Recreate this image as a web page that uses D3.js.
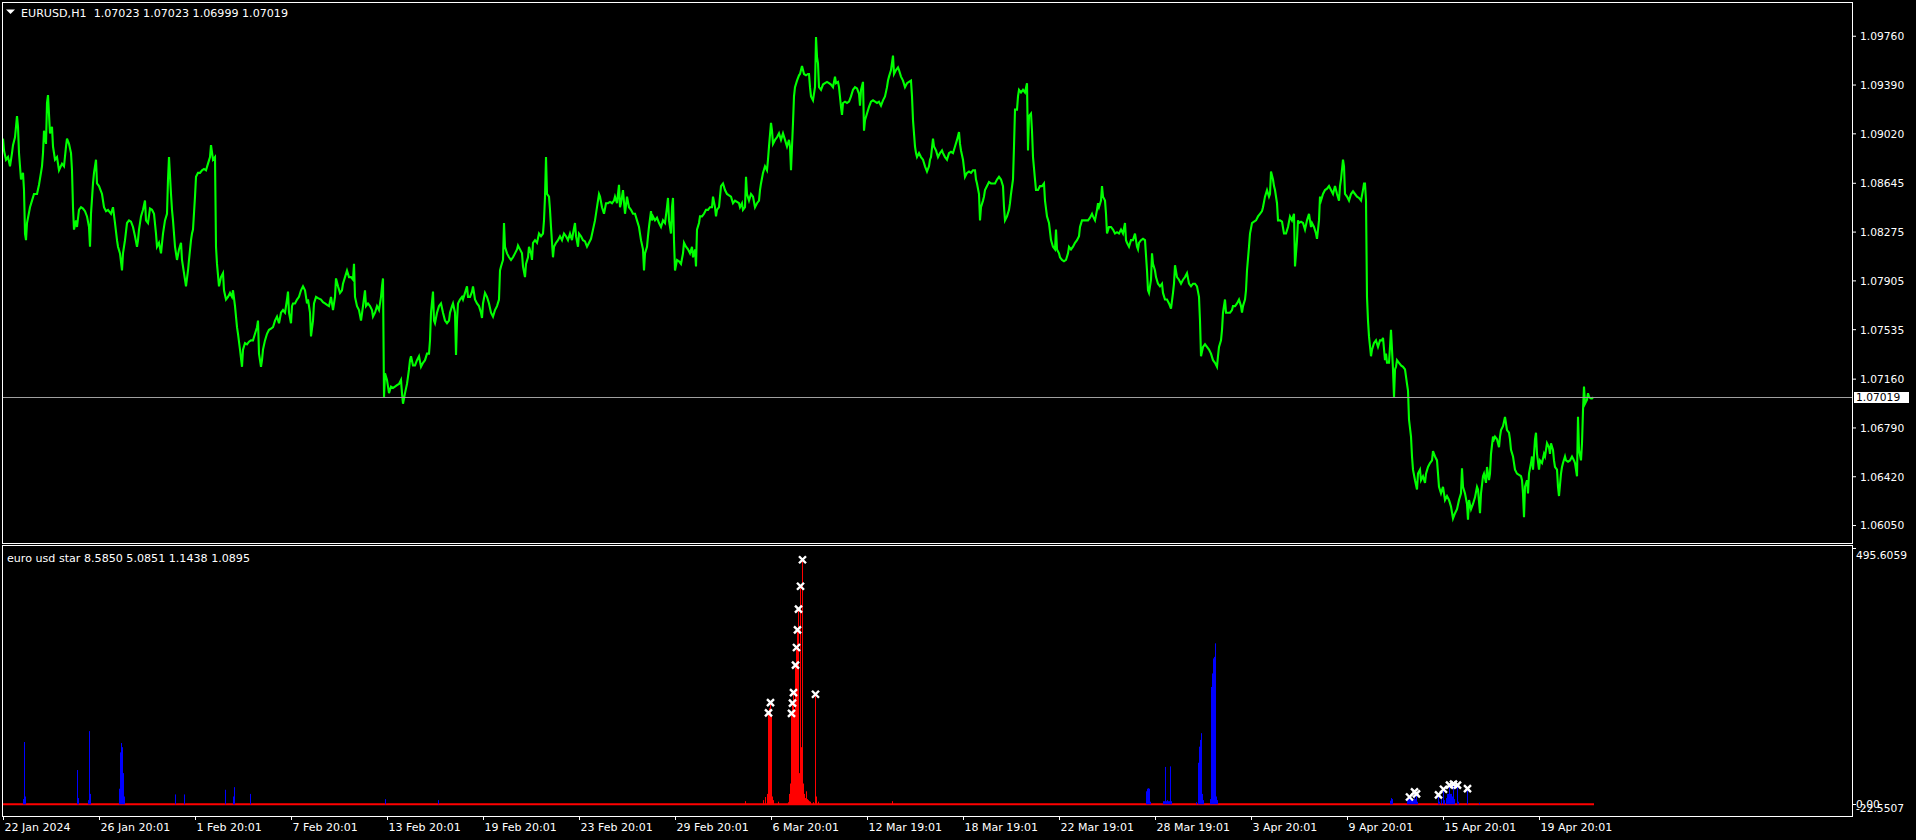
<!DOCTYPE html>
<html><head><meta charset="utf-8">
<script src="https://cdn.jsdelivr.net/npm/d3@7"></script>
<style>html,body{margin:0;padding:0;background:#000;overflow:hidden}svg{display:block}</style>
</head><body><svg id="c" width="1916" height="840"></svg>
<script>
// ---------------- data ----------------
const symbolTitle = "EURUSD,H1";
const ohlcText = "1.07023 1.07023 1.06999 1.07019";
const indicatorTitle = "euro usd star 8.5850 5.0851 1.1438 1.0895";
const lastPrice = 1.07019;
const priceDomain = [1.05910, 1.10012];
const priceTicks = [1.09760, 1.09390, 1.09020, 1.08645, 1.08275, 1.07905, 1.07535, 1.07160, 1.06790, 1.06420, 1.06050];
const oscDomain = [-22.5507, 495.6059];
const oscTickLabels = ["495.6059", "0.00", "-22.5507"];
const timeLabels = ["22 Jan 2024","26 Jan 20:01","1 Feb 20:01","7 Feb 20:01","13 Feb 20:01","19 Feb 20:01","23 Feb 20:01","29 Feb 20:01","6 Mar 20:01","12 Mar 19:01","18 Mar 19:01","22 Mar 19:01","28 Mar 19:01","3 Apr 20:01","9 Apr 20:01","15 Apr 20:01","19 Apr 20:01"];
const timeLabelBars = [0,96,192,288,384,480,576,672,768,864,960,1056,1152,1248,1344,1440,1536];
const barsVisible = 1849;

const priceBar = [0,1,3,5,7,9,10,12,14,15,16,18,20,21,22,23,24,27,29,31,34,36,39,40,41,43,44,45,47,49,50,52,54,56,59,61,63,64,66,68,69,70,71,73,74,76,78,80,82,84,86,87,88,90,91,93,94,96,99,101,103,105,108,110,112,114,115,117,119,120,122,124,126,128,130,132,134,135,136,138,140,142,143,145,147,149,151,153,154,156,158,160,162,164,165,166,168,169,170,172,173,174,176,178,179,181,183,185,186,188,189,190,192,193,195,197,199,201,203,205,207,208,210,212,213,214,216,218,220,221,223,225,227,229,230,232,234,235,237,239,240,242,244,246,248,250,252,254,255,256,258,259,260,262,264,266,268,270,272,274,276,278,280,282,284,285,286,288,289,290,292,294,296,298,300,302,304,305,307,308,310,311,313,315,318,320,322,324,326,328,330,332,333,335,337,339,340,342,344,346,348,350,351,352,354,356,358,360,362,363,365,367,369,370,372,374,376,378,379,380,381,382,384,386,388,390,392,394,396,398,399,400,402,404,406,
407,408,410,412,414,416,418,420,422,424,426,427,428,430,431,432,434,436,438,440,442,444,446,447,449,450,452,453,454,455,457,459,460,462,464,465,467,469,470,472,474,476,478,479,480,482,484,486,488,490,492,494,496,497,498,500,501,502,504,506,508,510,512,514,515,517,519,520,522,523,525,526,528,529,530,532,534,536,538,540,541,542,543,544,546,547,548,550,551,553,555,557,559,561,563,565,567,569,570,572,573,575,576,578,580,582,584,586,588,590,592,594,596,597,599,601,603,605,607,609,611,612,614,616,617,618,620,622,624,626,628,630,632,634,636,637,638,640,641,642,644,645,646,648,649,650,652,654,656,658,660,662,664,665,666,668,669,670,671,672,674,676,678,680,681,683,685,687,689,690,692,693,694,696,697,699,701,703,705,707,709,710,712,713,714,716,717,718,720,722,724,726,728,730,732,734,736,737,739,740,742,743,744,746,748,750,752,754,756,757,758,760,762,764,765,766,768,769,770,772,774,776,778,780,782,784,786,787,788,790,791,792,794,796,797,799,801,803,805,
806,807,808,810,812,813,814,815,816,818,820,822,824,826,828,830,832,833,835,836,838,839,840,842,844,846,848,850,852,854,856,857,858,860,861,862,864,866,868,870,872,874,876,878,880,882,884,885,886,888,890,891,893,895,896,898,900,902,904,906,908,909,910,912,913,914,916,918,920,922,924,926,927,928,930,931,933,935,937,939,940,942,944,946,948,950,952,954,956,957,958,960,962,964,966,968,970,972,973,974,976,977,978,980,981,982,984,986,988,990,992,994,996,998,1000,1001,1002,1004,1006,1007,1008,1010,1011,1012,1014,1015,1016,1018,1020,1022,1024,1025,1026,1028,1029,1030,1032,1033,1035,1037,1039,1041,1042,1044,1046,1048,1050,1052,1053,1054,1056,1057,1059,1061,1063,1065,1066,1068,1070,1072,1074,1076,1077,1079,1081,1083,1085,1087,1089,1090,1092,1094,1095,1096,1098,1099,1100,1102,1103,1104,1106,1108,1110,1112,1114,1116,1118,1120,1122,1123,1124,1126,1128,1130,1132,1134,1135,1136,1138,1140,1142,1144,1145,1146,1148,1149,1150,1152,1153,1155,1157,1159,1160,1162,1164,1166,1168,1170,1171,1172,1174,1176,1178,1180,1182,1184,1186,1188,1190,1192,1194,1196,1197,1198,1200,1202,1204,
1206,1208,1210,1212,1214,1215,1216,1218,1219,1220,1222,1223,1225,1227,1229,1230,1232,1234,1236,1238,1239,1240,1242,1243,1244,1246,1247,1249,1251,1253,1255,1257,1259,1260,1262,1264,1266,1267,1268,1270,1271,1272,1274,1275,1277,1279,1281,1283,1285,1287,1289,1291,1292,1294,1295,1296,1298,1300,1302,1304,1306,1308,1309,1311,1313,1314,1316,1317,1318,1320,1322,1324,1326,1328,1330,1332,1334,1336,1337,1338,1340,1341,1342,1344,1346,1348,1350,1352,1354,1356,1358,1360,1361,1362,1363,1364,1365,1366,1368,1369,1371,1373,1375,1377,1379,1380,1382,1383,1384,1386,1387,1388,1390,1391,1392,1393,1394,1396,1398,1400,1402,1404,1405,1406,1408,1409,1410,1412,1414,1415,1417,1418,1420,1422,1423,1425,1427,1429,1430,1432,1434,1436,1438,1440,1442,1444,1446,1448,1450,1452,1454,1456,1458,1459,1460,1462,1464,1465,1466,1468,1470,1472,1474,1475,1477,1478,1480,1481,1483,1484,1486,1487,1488,1490,1491,1492,1494,1496,1497,1498,1500,1502,1503,1504,1506,1507,1508,1510,1511,1512,1514,1516,1518,1519,1520,1521,1522,1524,1525,1526,1528,1529,1530,1532,1533,1534,1536,1537,1539,1541,1542,1544,1546,1547,1548,1550,1551,1552,1554,1555,1556,1558,1559,1560,1562,1563,1565,1567,1569,1571,1572,1574,1575,1576,1578,1579,1580,1581,1582,1584,1585,1586,1588,1589,1590];

const priceClose = [1.0898,1.0889,1.0882,1.0884,1.0877,1.0887,1.0893,1.0899,1.0915,1.0907,1.0887,1.0867,1.0872,1.0859,1.0826,1.0821,1.0834,1.0846,1.0851,1.0856,1.0856,1.0863,1.0877,1.0887,1.0904,1.0894,1.0925,1.0931,1.0902,1.0907,1.0892,1.0882,1.0884,1.0874,1.0879,1.0877,1.0892,1.0898,1.0894,1.0887,1.0874,1.0846,1.0829,1.0836,1.0831,1.0844,1.0846,1.0845,1.0843,1.0839,1.0831,1.0816,1.0841,1.0864,1.0872,1.0882,1.0864,1.0862,1.0856,1.0846,1.0843,1.0844,1.0841,1.0846,1.0834,1.0821,1.0816,1.0811,1.0798,1.0811,1.0821,1.0834,1.0836,1.0835,1.0831,1.0824,1.0816,1.0821,1.0829,1.0839,1.0844,1.0851,1.0836,1.0834,1.0845,1.0844,1.0841,1.0826,1.0816,1.0819,1.0811,1.0826,1.0836,1.0841,1.0867,1.0884,1.0856,1.0844,1.0836,1.0816,1.0811,1.0806,1.0814,1.0819,1.0806,1.0796,1.0786,1.0798,1.0806,1.0821,1.0826,1.0829,1.0854,1.0869,1.0872,1.0872,1.0874,1.0875,1.0874,1.0879,1.0884,1.0893,1.0882,1.0884,1.0816,1.0803,1.0786,1.0793,1.0796,1.0783,1.0776,1.0778,1.0781,1.0778,1.0783,1.0771,1.0755,1.0750,1.0738,1.0725,1.0738,1.0743,1.0742,1.0744,1.0745,1.0745,1.0750,1.0755,1.0760,1.0735,1.0725,1.0730,1.0738,1.0745,1.0750,1.0753,1.0754,1.0755,1.0760,1.0763,1.0758,1.0766,1.0768,1.0766,1.0776,1.0782,1.0766,1.0758,1.0771,1.0773,1.0773,1.0776,1.0778,1.0783,1.0786,1.0783,1.0773,1.0776,1.0766,1.0748,1.0760,1.0773,1.0778,1.0777,1.0776,1.0774,1.0773,1.0772,1.0771,1.0778,1.0768,1.0778,1.0792,1.0786,1.0781,1.0783,1.0788,1.0793,1.0798,1.0793,1.0793,1.0791,1.0803,1.0778,1.0771,1.0768,1.0760,1.0771,1.0783,1.0771,1.0773,1.0771,1.0768,1.0763,1.0766,1.0771,1.0768,1.0778,1.0786,1.0792,1.0702,1.0720,1.0715,1.0705,1.0710,1.0709,1.0710,1.0711,1.0712,1.0715,1.0705,1.0697,1.0705,1.0712,1.0723,
1.0730,1.0733,1.0726,1.0726,1.0730,1.0733,1.0725,1.0728,1.0730,1.0735,1.0735,1.0745,1.0766,1.0782,1.0760,1.0758,1.0766,1.0771,1.0773,1.0766,1.0760,1.0758,1.0760,1.0766,1.0771,1.0773,1.0766,1.0734,1.0760,1.0773,1.0776,1.0778,1.0776,1.0781,1.0786,1.0778,1.0778,1.0782,1.0786,1.0776,1.0773,1.0771,1.0766,1.0762,1.0773,1.0781,1.0778,1.0773,1.0766,1.0763,1.0768,1.0771,1.0776,1.0798,1.0801,1.0806,1.0834,1.0816,1.0811,1.0808,1.0806,1.0808,1.0811,1.0814,1.0817,1.0814,1.0811,1.0801,1.0793,1.0803,1.0808,1.0816,1.0811,1.0806,1.0819,1.0821,1.0819,1.0826,1.0824,1.0826,1.0836,1.0854,1.0884,1.0856,1.0854,1.0844,1.0831,1.0808,1.0816,1.0819,1.0821,1.0824,1.0821,1.0826,1.0824,1.0821,1.0826,1.0821,1.0826,1.0834,1.0824,1.0816,1.0826,1.0824,1.0821,1.0820,1.0816,1.0819,1.0822,1.0829,1.0836,1.0846,1.0856,1.0854,1.0846,1.0841,1.0849,1.0849,1.0850,1.0849,1.0851,1.0854,1.0849,1.0863,1.0846,1.0849,1.0859,1.0841,1.0854,1.0846,1.0844,1.0841,1.0841,1.0836,1.0831,1.0826,1.0821,1.0814,1.0798,1.0811,1.0816,1.0824,1.0831,1.0843,1.0836,1.0839,1.0836,1.0838,1.0834,1.0831,1.0836,1.0834,1.0846,1.0853,1.0836,1.0826,1.0846,1.0853,1.0821,1.0798,1.0806,1.0805,1.0803,1.0811,1.0819,1.0816,1.0814,1.0811,1.0816,1.0808,1.0814,1.0801,1.0829,1.0834,1.0839,1.0839,1.0841,1.0844,1.0844,1.0846,1.0846,1.0854,1.0846,1.0839,1.0844,1.0846,1.0854,1.0862,1.0864,1.0859,1.0856,1.0855,1.0854,1.0849,1.0851,1.0850,1.0849,1.0846,1.0849,1.0844,1.0846,1.0869,1.0856,1.0851,1.0856,1.0854,1.0846,1.0849,1.0851,1.0859,1.0864,1.0872,1.0877,1.0874,1.0882,1.0892,1.0910,1.0904,1.0894,1.0897,1.0899,1.0902,1.0897,1.0902,1.0897,1.0892,1.0897,1.0892,1.0874,1.0910,1.0930,1.0937,1.0942,1.0946,1.0947,1.0953,1.0947,1.0946,1.0947,
1.0947,1.0937,1.0930,1.0927,1.0937,1.0975,1.0960,1.0955,1.0937,1.0935,1.0939,1.0940,1.0941,1.0940,1.0939,1.0937,1.0945,1.0940,1.0941,1.0937,1.0922,1.0916,1.0925,1.0926,1.0925,1.0926,1.0930,1.0935,1.0937,1.0936,1.0932,1.0923,1.0935,1.0941,1.0904,1.0912,1.0917,1.0922,1.0926,1.0927,1.0926,1.0925,1.0926,1.0923,1.0927,1.0930,1.0937,1.0942,1.0945,1.0950,1.0961,1.0947,1.0950,1.0952,1.0950,1.0945,1.0942,1.0937,1.0940,1.0941,1.0942,1.0930,1.0912,1.0892,1.0887,1.0884,1.0887,1.0884,1.0882,1.0877,1.0873,1.0877,1.0882,1.0884,1.0898,1.0892,1.0889,1.0884,1.0887,1.0889,1.0887,1.0884,1.0882,1.0887,1.0888,1.0887,1.0892,1.0897,1.0903,1.0894,1.0889,1.0882,1.0869,1.0872,1.0873,1.0872,1.0874,1.0874,1.0867,1.0864,1.0856,1.0836,1.0846,1.0851,1.0854,1.0859,1.0862,1.0865,1.0864,1.0864,1.0864,1.0867,1.0869,1.0867,1.0862,1.0846,1.0836,1.0839,1.0844,1.0849,1.0856,1.0867,1.0892,1.0920,1.0920,1.0930,1.0935,1.0933,1.0935,1.0933,1.0940,1.0889,1.0915,1.0917,1.0904,1.0884,1.0867,1.0859,1.0859,1.0862,1.0862,1.0864,1.0851,1.0839,1.0834,1.0821,1.0816,1.0814,1.0829,1.0814,1.0811,1.0808,1.0806,1.0805,1.0806,1.0811,1.0816,1.0814,1.0816,1.0819,1.0821,1.0824,1.0831,1.0836,1.0836,1.0836,1.0836,1.0838,1.0841,1.0839,1.0836,1.0844,1.0849,1.0846,1.0851,1.0862,1.0854,1.0851,1.0841,1.0826,1.0831,1.0831,1.0829,1.0826,1.0827,1.0826,1.0829,1.0826,1.0834,1.0821,1.0819,1.0816,1.0821,1.0821,1.0826,1.0816,1.0814,1.0819,1.0821,1.0822,1.0821,1.0798,1.0783,1.0781,1.0791,1.0811,1.0803,1.0798,1.0793,1.0788,1.0786,1.0788,1.0781,1.0776,1.0776,1.0773,1.0769,1.0781,1.0788,1.0802,1.0793,1.0791,1.0788,1.0791,1.0793,1.0796,1.0788,1.0786,1.0788,1.0788,1.0786,1.0778,1.0760,1.0733,1.0740,1.0742,1.0740,
1.0738,1.0735,1.0730,1.0728,1.0725,1.0733,1.0740,1.0745,1.0753,1.0766,1.0776,1.0766,1.0766,1.0766,1.0768,1.0771,1.0771,1.0773,1.0776,1.0771,1.0766,1.0771,1.0776,1.0783,1.0798,1.0816,1.0826,1.0834,1.0835,1.0836,1.0839,1.0841,1.0843,1.0846,1.0854,1.0859,1.0854,1.0856,1.0873,1.0867,1.0862,1.0859,1.0849,1.0836,1.0836,1.0835,1.0826,1.0826,1.0831,1.0839,1.0836,1.0841,1.0801,1.0821,1.0836,1.0834,1.0835,1.0834,1.0829,1.0836,1.0841,1.0831,1.0834,1.0831,1.0826,1.0822,1.0836,1.0854,1.0851,1.0856,1.0859,1.0860,1.0862,1.0859,1.0856,1.0862,1.0856,1.0851,1.0862,1.0867,1.0882,1.0877,1.0856,1.0854,1.0851,1.0856,1.0858,1.0856,1.0854,1.0853,1.0851,1.0859,1.0864,1.0864,1.0851,1.0778,1.0760,1.0748,1.0733,1.0738,1.0743,1.0745,1.0740,1.0745,1.0745,1.0747,1.0730,1.0735,1.0728,1.0728,1.0740,1.0753,1.0723,1.0702,1.0723,1.0725,1.0730,1.0728,1.0726,1.0725,1.0723,1.0712,1.0707,1.0685,1.0672,1.0657,1.0647,1.0639,1.0632,1.0644,1.0647,1.0639,1.0642,1.0637,1.0644,1.0649,1.0652,1.0654,1.0661,1.0657,1.0654,1.0634,1.0629,1.0634,1.0624,1.0627,1.0624,1.0619,1.0610,1.0614,1.0617,1.0624,1.0629,1.0648,1.0634,1.0629,1.0621,1.0609,1.0624,1.0617,1.0621,1.0626,1.0634,1.0632,1.0614,1.0629,1.0642,1.0644,1.0637,1.0649,1.0639,1.0644,1.0659,1.0672,1.0670,1.0672,1.0670,1.0664,1.0672,1.0677,1.0680,1.0687,1.0682,1.0677,1.0675,1.0670,1.0662,1.0657,1.0652,1.0647,1.0644,1.0643,1.0642,1.0639,1.0629,1.0611,1.0634,1.0639,1.0629,1.0644,1.0652,1.0657,1.0647,1.0670,1.0675,1.0659,1.0647,1.0654,1.0652,1.0659,1.0657,1.0667,1.0664,1.0659,1.0667,1.0662,1.0654,1.0649,1.0647,1.0634,1.0627,1.0644,1.0649,1.0652,1.0657,1.0654,1.0653,1.0654,1.0657,1.0654,1.0652,1.0642,1.0687,1.0662,1.0654,1.0667,1.0692,1.0710,1.0697,1.0700,1.0705,1.0702,1.0701,1.0701,1.07019];

// indicator histogram (blue = up buffer, red = down buffer), bar index -> value
const blueBarIdx = [20,21,22,74,75,85,86,87,116,117,118,119,120,121,172,181,222,230,231,247,382,435,1143,1144,1145,1146,1147,1160,1161,1162,1163,1164,1165,1166,1167,1168,1193,1195,1196,1197,1198,1199,1200,1207,1208,1209,1210,1211,1212,1213,1214,1387,1388,1389,1404,1405,1406,1407,1408,1409,1410,1411,1412,1413,1414,1435,1436,1438,1440,1441,1443,1444,1445,1446,1447,1448,1449,1450,1451,1454,1455,1464,1476];
const blueBarVal = [10,120,15,66,12,8,141,20,30,100,118,110,60,15,19,19,28,15,33,20,10,8,25,30,31,30,5,6,6,72,6,8,6,6,73,6,4,80,111,124,137,20,8,10,226,252,281,284,310,15,8,7,12,10,8,10,14,10,12,10,8,24,10,20,5,18,5,10,29,8,12,20,20,37,20,20,15,39,10,37,5,30,3];
const redBarIdx = [742,760,762,764,765,766,767,768,769,770,775,785,786,787,788,789,790,791,792,793,794,795,796,797,798,799,800,801,802,803,804,805,806,807,810,812,813,815,889];
const redBarVal = [6,8,14,20,176,185,196,170,15,8,5,4,20,40,175,195,215,180,268,302,336,376,60,420,110,471,40,20,12,25,10,8,6,5,4,212,15,5,6];
const markerIdx = [765,767,788,789,790,792,793,794,795,797,799,812,1406,1411,1413,1435,1440,1446,1450,1454,1464];
const markerVal = [176,196,175,195,215,268,302,336,376,420,471,212,14,24,20,18,29,37,39,37,30];

// ---------------- layout ----------------
const W = 1916, H = 840;
const L = 2.5, R = 1852.5;
const mainTop = 2.5, mainBottom = 543.5;
const oscTop = 545.5, oscBottom = 816.5;
const FONT = "'DejaVu Sans', Tahoma, sans-serif";

const svg = d3.select("#c");
svg.append("rect").attr("width", W).attr("height", H).attr("fill", "#000");

const x = d3.scaleLinear().domain([0, barsVisible]).range([3, 3 + barsVisible]);
const y = d3.scaleLinear().domain(priceDomain).range([mainBottom, mainTop]);
const yo = d3.scaleLinear().domain(oscDomain).range([oscBottom - 0.5, oscTop + 1.5]);

const defs = svg.append("defs");
defs.append("clipPath").attr("id", "cm").append("rect")
  .attr("x", L).attr("y", mainTop).attr("width", R - L).attr("height", mainBottom - mainTop);
defs.append("clipPath").attr("id", "co").append("rect")
  .attr("x", L).attr("y", oscTop).attr("width", R - L).attr("height", oscBottom - oscTop);

// price line
const idx = d3.range(priceBar.length);
svg.append("g").attr("clip-path", "url(#cm)")
  .append("path")
  .attr("d", d3.line().x(i => x(priceBar[i])).y(i => y(priceClose[i]))(idx))
  .attr("fill", "none").attr("stroke", "#00ff00").attr("stroke-width", 2.1)
  .attr("stroke-linejoin", "miter");

// current price line
svg.append("line").attr("x1", L).attr("x2", R)
  .attr("y1", Math.round(y(lastPrice)) + 0.5).attr("y2", Math.round(y(lastPrice)) + 0.5)
  .attr("stroke", "#a0a0a0").attr("stroke-width", 1);

// price axis
const pAxis = svg.append("g").attr("transform", `translate(${R - 0.5},0)`)
  .call(d3.axisRight(y).tickValues(priceTicks).tickFormat(d => d.toFixed(5)).tickSize(4).tickPadding(4));
pAxis.select(".domain").remove();
pAxis.selectAll("line").attr("stroke", "#fff");
pAxis.selectAll("text").attr("fill", "#fff").attr("font-family", FONT).attr("font-size", 10.7).attr("dy", "0.36em");

// last price label
const ly = Math.round(y(lastPrice)) + 0.5;
svg.append("rect").attr("x", 1854).attr("y", ly - 5.5).attr("width", 55).attr("height", 11).attr("fill", "#fff");
svg.append("text").attr("x", 1856).attr("y", ly).attr("dy", "0.36em")
  .attr("font-family", FONT).attr("font-size", 10.7).attr("fill", "#000").text(lastPrice.toFixed(5));

// oscillator: zero line
const oscG = svg.append("g").attr("clip-path", "url(#co)");
oscG.append("line").attr("x1", x(0) - 1).attr("x2", x(priceBar[priceBar.length - 1]) + 1)
  .attr("y1", yo(0)).attr("y2", yo(0)).attr("stroke", "#ff0000").attr("stroke-width", 2);
// bars
oscG.selectAll("rect.b").data(d3.range(blueBarIdx.length)).join("rect").attr("class", "b")
  .attr("x", i => x(blueBarIdx[i])).attr("width", 1)
  .attr("y", i => yo(blueBarVal[i])).attr("height", i => yo(0) - yo(blueBarVal[i]))
  .attr("fill", "#0000ff");
oscG.selectAll("rect.r").data(d3.range(redBarIdx.length)).join("rect").attr("class", "r")
  .attr("x", i => x(redBarIdx[i])).attr("width", 1)
  .attr("y", i => yo(redBarVal[i])).attr("height", i => yo(0) - yo(redBarVal[i]))
  .attr("fill", "#ff0000");
// markers
oscG.selectAll("path.m").data(d3.range(markerIdx.length)).join("path").attr("class", "m")
  .attr("transform", i => `translate(${x(markerIdx[i]) + 0.5},${yo(markerVal[i])})`)
  .attr("d", "M-3.5,-3.5L3.5,3.5M-3.5,3.5L3.5,-3.5")
  .attr("stroke", "#fff").attr("stroke-width", 2.4).attr("fill", "none");

// oscillator axis
const oAxis = svg.append("g").attr("transform", `translate(${R - 0.5},0)`);
[oscDomain[1], 0].forEach(v => {
  const yy = Math.round(Math.max(yo(v), oscTop + 2)) + 0.5;
  oAxis.append("line").attr("x1", 0).attr("x2", 4).attr("y1", yy).attr("y2", yy).attr("stroke", "#fff");
});
const oscVals = [oscDomain[1], 0, oscDomain[0]];
oAxis.selectAll("text").data(oscVals).join("text")
  .attr("x", 4).attr("y", (v) => Math.min(Math.max(yo(v), oscTop + 10), oscBottom - 8.5))
  .attr("dy", "0.36em").attr("fill", "#fff").attr("font-family", FONT).attr("font-size", 10.7)
  .text((v, i) => oscTickLabels[i]);

// time axis
const tAxis = svg.append("g").attr("transform", `translate(0,${oscBottom - 0.5})`)
  .call(d3.axisBottom(x).tickValues(timeLabelBars).tickFormat((d, i) => timeLabels[i]).tickSize(4));
tAxis.select(".domain").remove();
tAxis.selectAll("line").attr("stroke", "#fff");
tAxis.selectAll("text").attr("fill", "#fff").attr("font-family", FONT).attr("font-size", 11)
  .attr("text-anchor", "start").attr("x", 1).attr("y", 15).attr("dy", 0);

// frames
svg.append("rect").attr("x", L).attr("y", mainTop).attr("width", R - L).attr("height", mainBottom - mainTop)
  .attr("fill", "none").attr("stroke", "#fff").attr("stroke-width", 1);
svg.append("rect").attr("x", L).attr("y", oscTop).attr("width", R - L).attr("height", oscBottom - oscTop)
  .attr("fill", "none").attr("stroke", "#fff").attr("stroke-width", 1);

// titles
svg.append("path").attr("d", "M6,9.5L15,9.5L10.5,14Z").attr("fill", "#fff");
svg.append("text").attr("x", 21).attr("y", 17).attr("fill", "#fff")
  .attr("font-family", FONT).attr("font-size", 11)
  .attr("textLength", 267).attr("lengthAdjust", "spacingAndGlyphs")
  .attr("xml:space", "preserve").text(symbolTitle + "  " + ohlcText);
svg.append("text").attr("x", 7).attr("y", 561.5).attr("fill", "#fff")
  .attr("font-family", FONT).attr("font-size", 11)
  .attr("textLength", 243).attr("lengthAdjust", "spacingAndGlyphs")
  .text(indicatorTitle);
</script></body></html>
